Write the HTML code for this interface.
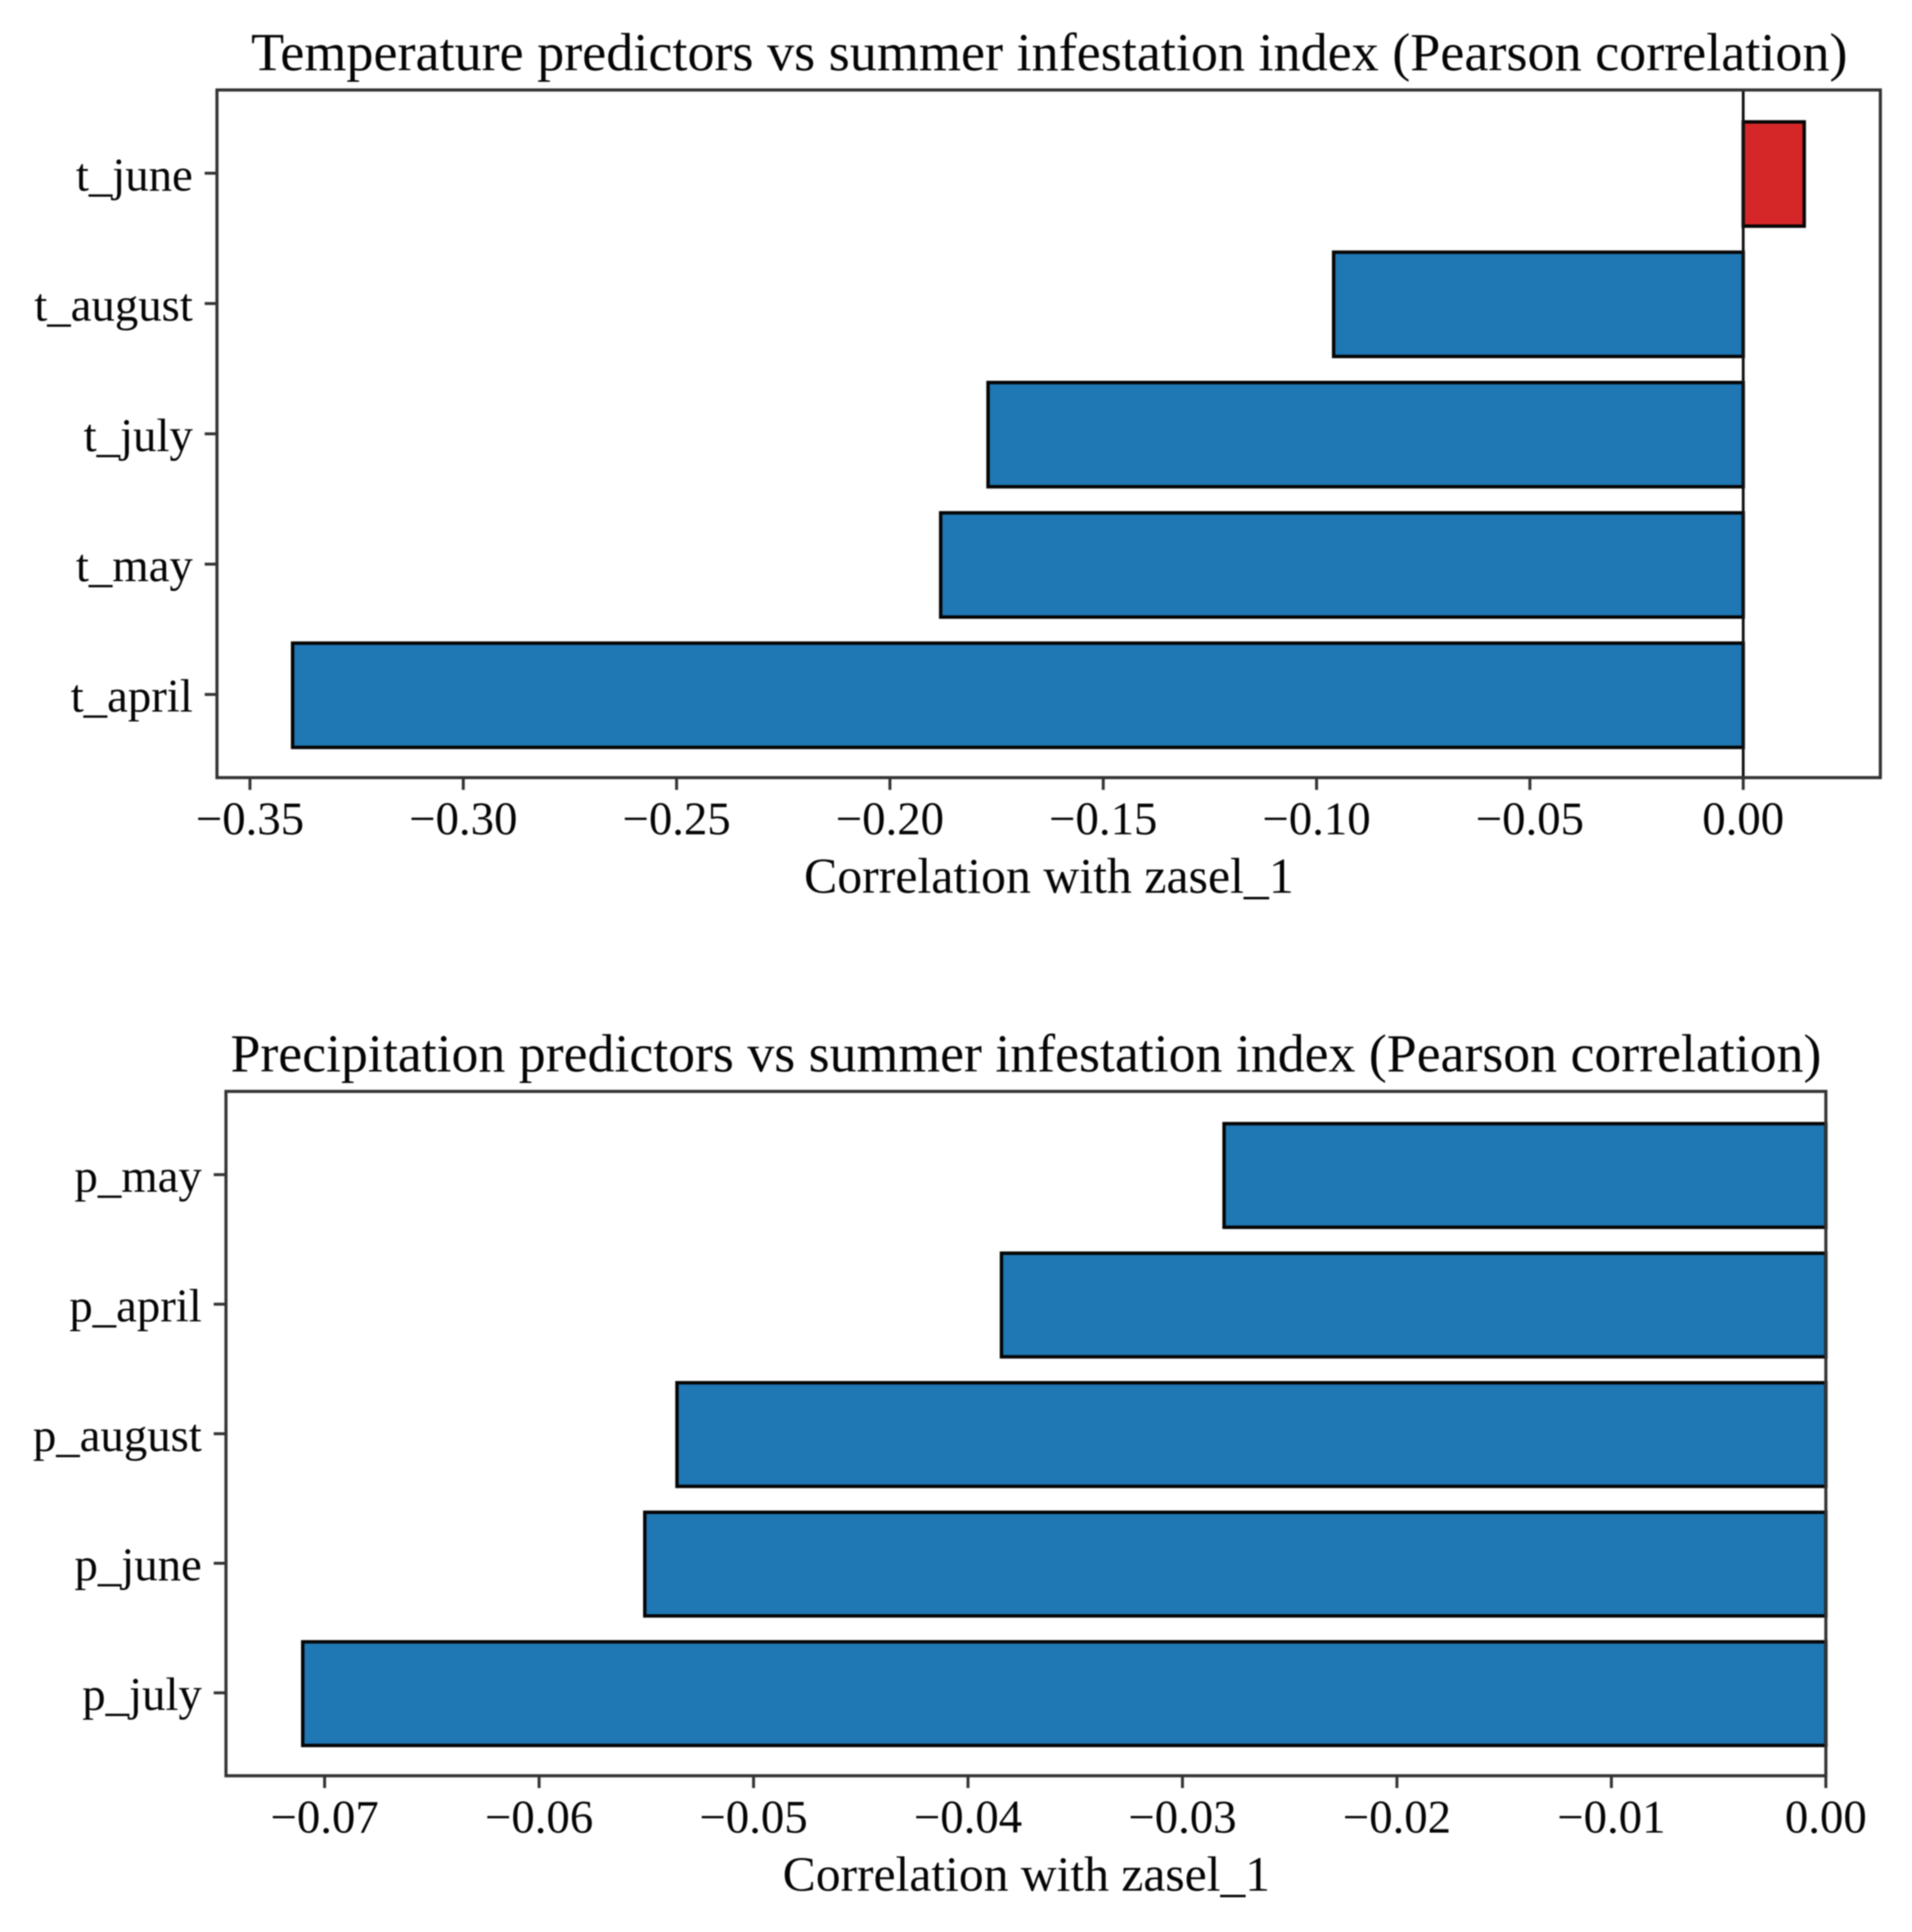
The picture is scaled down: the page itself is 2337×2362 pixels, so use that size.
<!DOCTYPE html>
<html lang="en">
<head>
<meta charset="utf-8">
<title>Predictors vs summer infestation index</title>
<style>
  html, body { margin: 0; padding: 0; background: #fff; }
  svg { display: block; filter: blur(0.7px); }
  text { font-family: "Liberation Serif", "Times New Roman", serif; fill: #050505; }
  .title { text-anchor: middle; }
  .axis-label { text-anchor: middle; }
  .tick-text { font-size: 57.2px; }
</style>
</head>
<body>
<svg id="figure" xmlns="http://www.w3.org/2000/svg" width="2337" height="2362" viewBox="0 0 2337 2362">
  <rect x="0" y="0" width="2337" height="2362" fill="#ffffff"/>
  <g id="chart-temp"></g>
  <g id="chart-precip"></g>
  <text class="title" x="1282.5" y="86" font-size="66.15">Temperature predictors vs summer infestation index (Pearson correlation)</text>
  <text class="axis-label" x="1282" y="1091.5" font-size="60.9">Correlation with zasel_1</text>
  <text class="title" x="1254" y="1310" font-size="65.75">Precipitation predictors vs summer infestation index (Pearson correlation)</text>
  <text class="axis-label" x="1254.5" y="2311.5" font-size="60.6">Correlation with zasel_1</text>
</svg>
<script>
// Temperature chart data (bottom to top)
const tempCategories = ['t_april', 't_may', 't_july', 't_august', 't_june'];
const tempValues = [-0.3400, -0.1881, -0.1770, -0.0960, 0.0143];
const tempTickValues = [-0.35, -0.30, -0.25, -0.20, -0.15, -0.10, -0.05, 0];
const tempTickLabels = ['\u22120.35', '\u22120.30', '\u22120.25', '\u22120.20', '\u22120.15', '\u22120.10', '\u22120.05', '0.00'];

// Precipitation chart data (bottom to top)
const precipCategories = ['p_july', 'p_june', 'p_august', 'p_april', 'p_may'];
const precipValues = [-0.07102, -0.05507, -0.05357, -0.03844, -0.02806];
const precipTickValues = [-0.07, -0.06, -0.05, -0.04, -0.03, -0.02, -0.01, 0];
const precipTickLabels = ['\u22120.07', '\u22120.06', '\u22120.05', '\u22120.04', '\u22120.03', '\u22120.02', '\u22120.01', '0.00'];

const SVG_NS = 'http://www.w3.org/2000/svg';

function makeScale(d0, d1, r0, r1) {
  return function (v) { return r0 + (v - d0) / (d1 - d0) * (r1 - r0); };
}

function shape(parent, tag, attrs) {
  const el = document.createElementNS(SVG_NS, tag);
  for (const k in attrs) el.setAttribute(k, attrs[k]);
  parent.appendChild(el);
  return el;
}

function drawChart(root, prefix, categories, values, tickValues, tickLabels, frame) {
  const x = makeScale(frame.xMin, frame.xMax, frame.left, frame.right);
  const y = makeScale(frame.yMin, frame.yMax, frame.bottom, frame.top);
  const barH = Math.abs(y(0.8) - y(0));

  values.forEach(function (v, i) {
    const x0 = x(Math.min(v, 0));
    const x1 = x(Math.max(v, 0));
    const bar = shape(root, 'rect', {
      x: x0, y: y(i) - barH / 2, width: x1 - x0, height: barH,
      fill: v >= 0 ? '#d62728' : '#1f77b4', stroke: '#050505', 'stroke-width': 4.2
    });
    
    
  });

  const zero = shape(root, 'line', {
    x1: x(0), x2: x(0), y1: frame.top, y2: frame.bottom, stroke: '#111111', 'stroke-width': 3.4
  });
  
  

  const spines = shape(root, 'rect', {
    x: frame.left, y: frame.top, width: frame.right - frame.left, height: frame.bottom - frame.top,
    fill: 'none', stroke: '#333333', 'stroke-width': 3.8
  });
  
  

  categories.forEach(function (c, i) {
    const mark = shape(root, 'line', {
      x1: frame.left - 15, x2: frame.left, y1: y(i) - 1, y2: y(i) - 1, stroke: '#333333', 'stroke-width': 3.6
    });
    
    
    const label = shape(root, 'text', {
      x: frame.left - 29.5, y: y(i) + 20, 'text-anchor': 'end', 'class': 'tick-text'
    });
    label.textContent = c;
    
    
  });

  tickValues.forEach(function (t, i) {
    const mark = shape(root, 'line', {
      x1: x(t), x2: x(t), y1: frame.bottom, y2: frame.bottom + 15, stroke: '#333333', 'stroke-width': 3.6
    });
    
    
    const label = shape(root, 'text', {
      x: x(t), y: frame.bottom + 69.5, 'text-anchor': 'middle', 'class': 'tick-text'
    });
    label.textContent = tickLabels[i];
    
    
  });
}

drawChart(document.getElementById('chart-temp'), 'temperature', tempCategories, tempValues, tempTickValues, tempTickLabels, {
  left: 265.2, right: 2298.3, top: 110, bottom: 950.7,
  xMin: -0.35773, xMax: 0.03214, yMin: -0.632, yMax: 4.645
});
drawChart(document.getElementById('chart-precip'), 'precipitation', precipCategories, precipValues, precipTickValues, precipTickLabels, {
  left: 276.2, right: 2231.7, top: 1334.3, bottom: 2171,
  xMin: -0.0746, xMax: 0, yMin: -0.634, yMax: 4.649
});
</script>
</body>
</html>
